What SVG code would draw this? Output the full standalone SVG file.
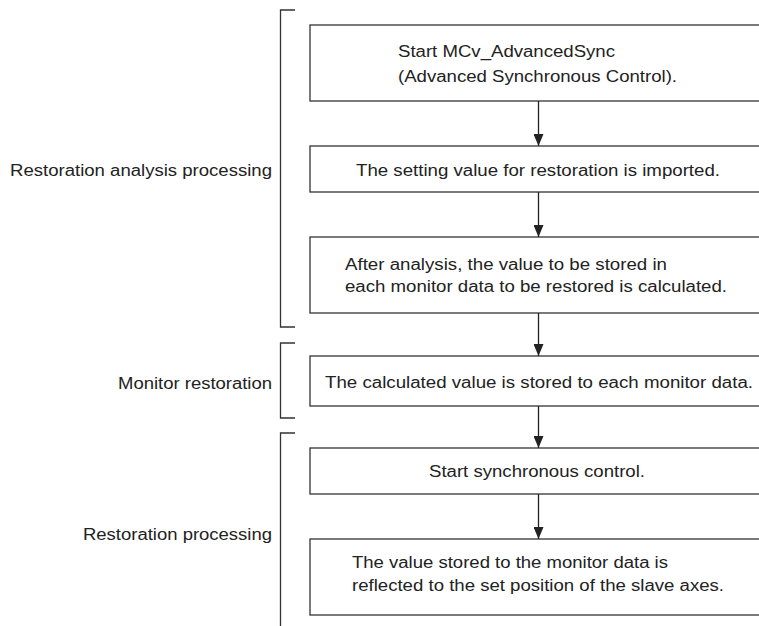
<svg xmlns="http://www.w3.org/2000/svg" width="759" height="626" viewBox="0 0 759 626">
<defs>
<style>
.box{fill:#fff;stroke:#333;stroke-width:1.3}
.t{font-family:"Liberation Sans",Arial,sans-serif;font-size:16px;fill:#222}
.lbl{font-family:"Liberation Sans",Arial,sans-serif;font-size:16px;fill:#222;text-anchor:end}
.br{fill:none;stroke:#333;stroke-width:1.3}
.c{stroke:#222;stroke-width:1.3;fill:none}
</style>
<marker id="ah" markerWidth="12" markerHeight="10" refX="12" refY="5" orient="auto" markerUnits="userSpaceOnUse">
<path d="M0,0 L12,5 L0,10 z" fill="#222"/>
</marker>
</defs>
<rect width="759" height="626" fill="#fff"/>
<g id="brackets">
<path class="br" d="M295,10 H280.5 V327 H295"/>
<path class="br" d="M295,343 H280.5 V418 H295"/>
<path class="br" d="M295,433 H280.5 V626"/>
<text class="lbl" x="272" y="176" textLength="262" lengthAdjust="spacingAndGlyphs">Restoration analysis processing</text>
<text class="lbl" x="272" y="389" textLength="154" lengthAdjust="spacingAndGlyphs">Monitor restoration</text>
<text class="lbl" x="272" y="540" textLength="189" lengthAdjust="spacingAndGlyphs">Restoration processing</text>
</g>
<g id="n1">
<rect class="box" x="310" y="25" width="460" height="76"/>
<text class="t" x="398" y="57" textLength="217" lengthAdjust="spacingAndGlyphs">Start MCv_AdvancedSync</text>
<text class="t" x="398" y="82" textLength="279" lengthAdjust="spacingAndGlyphs">(Advanced Synchronous Control).</text>
</g>
<g id="n2">
<rect class="box" x="310" y="146" width="460" height="46"/>
<text class="t" x="356" y="176" textLength="364" lengthAdjust="spacingAndGlyphs">The setting value for restoration is imported.</text>
</g>
<g id="n3">
<rect class="box" x="310" y="237" width="460" height="76"/>
<text class="t" x="345" y="270" textLength="322" lengthAdjust="spacingAndGlyphs">After analysis, the value to be stored in</text>
<text class="t" x="345" y="292" textLength="382" lengthAdjust="spacingAndGlyphs">each monitor data to be restored is calculated.</text>
</g>
<g id="n4">
<rect class="box" x="310" y="356" width="460" height="50"/>
<text class="t" x="325" y="388" textLength="428" lengthAdjust="spacingAndGlyphs">The calculated value is stored to each monitor data.</text>
</g>
<g id="n5">
<rect class="box" x="310" y="448" width="460" height="46"/>
<text class="t" x="429" y="477" textLength="216" lengthAdjust="spacingAndGlyphs">Start synchronous control.</text>
</g>
<g id="n6">
<rect class="box" x="310" y="539" width="460" height="76"/>
<text class="t" x="352" y="568" textLength="316" lengthAdjust="spacingAndGlyphs">The value stored to the monitor data is</text>
<text class="t" x="352" y="591" textLength="372" lengthAdjust="spacingAndGlyphs">reflected to the set position of the slave axes.</text>
</g>
<g id="connectors">
<line class="c" x1="538.5" y1="101" x2="538.5" y2="146" marker-end="url(#ah)"/>
<line class="c" x1="538.5" y1="192" x2="538.5" y2="237" marker-end="url(#ah)"/>
<line class="c" x1="538.5" y1="313" x2="538.5" y2="356" marker-end="url(#ah)"/>
<line class="c" x1="538.5" y1="406" x2="538.5" y2="448" marker-end="url(#ah)"/>
<line class="c" x1="538.5" y1="494" x2="538.5" y2="539" marker-end="url(#ah)"/>
</g>
</svg>
